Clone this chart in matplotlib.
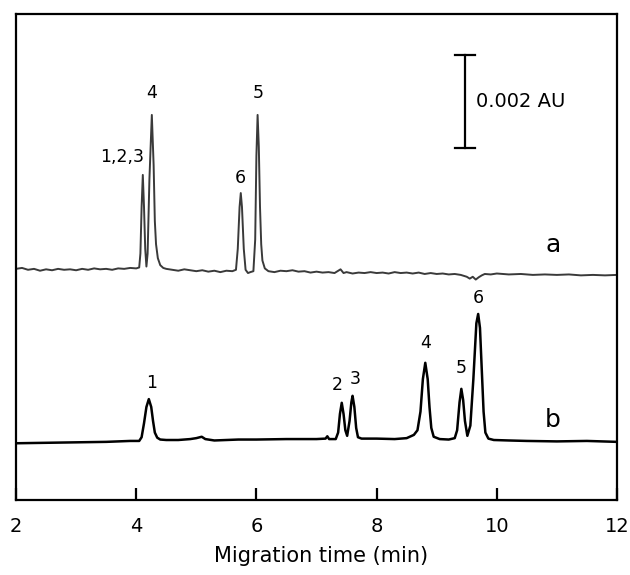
import matplotlib
matplotlib.use("Agg")
import matplotlib.pyplot as plt

plt.rcParams['font.family'] = ['DejaVu Sans']

# ---- data (absorbance in mAU, time in min) ----
a_time = [2.0, 2.1, 2.2, 2.3, 2.4, 2.5, 2.6, 2.7, 2.8, 2.9, 3.0, 3.1, 3.2, 3.3, 3.4,
          3.5, 3.6, 3.7, 3.8, 3.9, 4.0, 4.05, 4.07, 4.09, 4.11, 4.13, 4.15, 4.17,
          4.19, 4.22, 4.26, 4.29, 4.31, 4.33, 4.36, 4.40, 4.45, 4.5, 4.6, 4.7, 4.8,
          4.9, 5.0, 5.1, 5.2, 5.3, 5.4, 5.5, 5.6, 5.66, 5.69, 5.72, 5.74, 5.76, 5.79,
          5.82, 5.86, 5.90, 5.95, 5.98, 6.00, 6.02, 6.04, 6.06, 6.08, 6.10, 6.14,
          6.2, 6.3, 6.4, 6.5, 6.6, 6.7, 6.8, 6.9, 7.0, 7.1, 7.2, 7.3, 7.4, 7.45,
          7.5, 7.6, 7.7, 7.8, 7.9, 8.0, 8.1, 8.2, 8.3, 8.4, 8.5, 8.6, 8.7, 8.8, 8.9,
          9.0, 9.1, 9.2, 9.3, 9.4, 9.5, 9.55, 9.6, 9.65, 9.7, 9.75, 9.8, 9.9, 10.0,
          10.2, 10.4, 10.6, 10.8, 11.0, 11.2, 11.4, 11.6, 11.8, 12.0]
a_signal = [4.97, 4.99, 4.95, 4.97, 4.93, 4.96, 4.94, 4.97, 4.95, 4.96, 4.94, 4.97,
            4.95, 4.98, 4.96, 4.97, 4.95, 4.98, 4.97, 4.99, 4.98, 5.00, 5.30, 6.30,
            6.99, 6.30, 5.40, 5.02, 5.30, 6.90, 8.28, 7.20, 6.00, 5.50, 5.20, 5.05,
            4.99, 4.97, 4.95, 4.93, 4.96, 4.94, 4.92, 4.94, 4.91, 4.93, 4.90, 4.93,
            4.92, 4.95, 5.40, 6.30, 6.60, 6.30, 5.40, 4.95, 4.88, 4.90, 4.92, 5.60,
            7.40, 8.28, 7.60, 6.30, 5.50, 5.15, 4.98, 4.92, 4.90, 4.93, 4.92, 4.94,
            4.91, 4.92, 4.89, 4.91, 4.89, 4.90, 4.88, 4.96, 4.88, 4.90, 4.87, 4.89,
            4.88, 4.90, 4.88, 4.89, 4.87, 4.90, 4.88, 4.89, 4.87, 4.89, 4.86, 4.88,
            4.86, 4.87, 4.85, 4.86, 4.84, 4.80, 4.76, 4.80, 4.74, 4.79, 4.83, 4.86,
            4.85, 4.87, 4.85, 4.86, 4.84, 4.85, 4.84, 4.85, 4.83, 4.84, 4.83, 4.84]

b_time = [2.0, 2.5, 3.0, 3.5, 3.9, 4.05, 4.09, 4.13, 4.17, 4.21, 4.25, 4.28, 4.31,
          4.35, 4.40, 4.5, 4.7, 4.9, 5.0, 5.09, 5.15, 5.3, 5.5, 5.7, 6.0, 6.5, 7.0,
          7.15, 7.18, 7.21, 7.32, 7.36, 7.39, 7.42, 7.45, 7.48, 7.51, 7.55, 7.58,
          7.60, 7.63, 7.66, 7.69, 7.75, 8.0, 8.3, 8.5, 8.62, 8.68, 8.73, 8.77, 8.81,
          8.85, 8.88, 8.91, 8.95, 9.05, 9.2, 9.3, 9.34, 9.38, 9.41, 9.44, 9.47, 9.51,
          9.56, 9.61, 9.66, 9.69, 9.72, 9.75, 9.78, 9.81, 9.86, 9.95, 10.2, 10.5,
          11.0, 11.5, 12.0]
b_signal = [1.22, 1.23, 1.24, 1.25, 1.27, 1.27, 1.35, 1.65, 2.00, 2.17, 2.00, 1.70,
            1.45, 1.34, 1.30, 1.29, 1.29, 1.31, 1.33, 1.36, 1.31, 1.28, 1.29, 1.30,
            1.30, 1.31, 1.31, 1.32, 1.37, 1.31, 1.31, 1.45, 1.85, 2.09, 1.85, 1.50,
            1.38, 1.70, 2.10, 2.24, 2.00, 1.55, 1.35, 1.32, 1.32, 1.31, 1.33, 1.40,
            1.50, 1.90, 2.60, 2.95, 2.60, 2.00, 1.55, 1.36, 1.31, 1.30, 1.33, 1.50,
            2.10, 2.39, 2.15, 1.70, 1.38, 1.60, 2.60, 3.80, 4.00, 3.70, 2.80, 1.90,
            1.45, 1.32, 1.29, 1.28, 1.27, 1.26, 1.27, 1.25]

a_labels = ["1,2,3", "4", "6", "5"]
a_label_time = [3.76, 4.25, 5.74, 6.03]
a_label_y = [7.37, 8.75, 6.92, 8.75]

b_labels = ["1", "2", "3", "4", "5", "6"]
b_label_time = [4.26, 7.34, 7.64, 8.82, 9.40, 9.70]
b_label_y = [2.52, 2.47, 2.60, 3.38, 2.84, 4.34]

x_ticks = [2, 4, 6, 8, 10, 12]
x_ticklabels = ["2", "4", "6", "8", "10", "12"]

scale_value = 2.0          # mAU = 0.002 AU
scale_top = 9.57
scale_time = 9.47
scale_text = "0.002 AU"

# ---- figure ----
fig = plt.figure(figsize=(6.3, 5.75), dpi=100)
ax = fig.add_axes([16/630, 75/575, 601/630, 486/575])

ax.plot(a_time, a_signal, color='#3a3a3a', lw=1.4)
ax.plot(b_time, b_signal, color='black', lw=1.8)

for s, t, y in zip(a_labels, a_label_time, a_label_y):
    ax.text(t, y, s, ha='center', va='center', fontsize=12.5)
for s, t, y in zip(b_labels, b_label_time, b_label_y):
    ax.text(t, y, s, ha='center', va='center', fontsize=12.5)

ax.text(10.93, 5.48, "a", ha='center', va='center', fontsize=18)
ax.text(10.93, 1.72, "b", ha='center', va='center', fontsize=18)

# scale bar
ax.plot([scale_time, scale_time], [scale_top - scale_value, scale_top], color='black', lw=1.6)
for yy in (scale_top - scale_value, scale_top):
    ax.plot([scale_time - 0.17, scale_time + 0.17], [yy, yy], color='black', lw=1.6)
ax.text(scale_time + 0.19, scale_top - scale_value / 2, scale_text,
        ha='left', va='center', fontsize=14)

ax.set_xlim(2, 12)
ax.set_ylim(0, 10.45)
ax.set_xticks(x_ticks)
ax.set_xticklabels(x_ticklabels, fontsize=14)
ax.set_yticks([])
ax.tick_params(axis='x', direction='in', length=9, width=1.6, pad=12)
for sp in ax.spines.values():
    sp.set_linewidth(1.6)

fig.text(321/630, 1 - 555.5/575, "Migration time (min)", ha='center', va='center',
         fontsize=15)

fig.savefig("out.png", dpi=100)
